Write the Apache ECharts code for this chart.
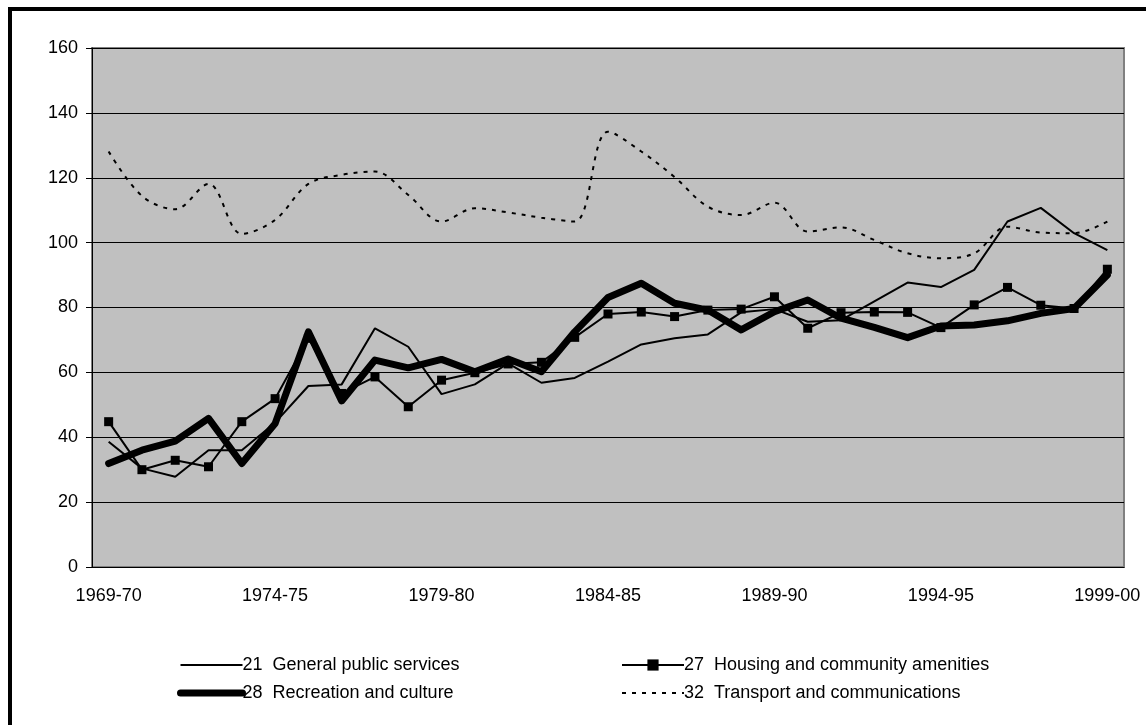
<!DOCTYPE html>
<html>
<head>
<meta charset="utf-8">
<script src="https://cdn.jsdelivr.net/npm/echarts@6/dist/echarts.min.js"></script>
<style>
  html, body { margin: 0; padding: 0; background: #fff; }
  #chart { width: 1146px; height: 725px; }
</style>
</head>
<body>
<div id="chart"></div>
<script>
// Financial years shown on the category axis
const years = [
  '1969-70', '1970-71', '1971-72', '1972-73', '1973-74', '1974-75', '1975-76',
  '1976-77', '1977-78', '1978-79', '1979-80', '1980-81', '1981-82', '1982-83',
  '1983-84', '1984-85', '1985-86', '1986-87', '1987-88', '1988-89', '1989-90',
  '1990-91', '1991-92', '1992-93', '1993-94', '1994-95', '1995-96', '1996-97',
  '1997-98', '1998-99', '1999-00'
];

// 21 General public services
const generalPublicServices = [
  38.6, 30.4, 27.8, 36.0, 36.0, 44.5, 55.8, 56.3, 73.6, 67.9, 53.3,
  56.3, 62.8, 56.8, 58.3, 63.3, 68.6, 70.5, 71.7, 78.5, 79.5, 75.6,
  76.1, 81.9, 87.7, 86.3, 91.6, 106.5, 110.7, 102.9, 97.7
];

// 27 Housing and community amenities
const housingAmenities = [
  44.8, 30.0, 32.9, 30.9, 44.8, 51.9, 70.5, 53.5, 58.6, 49.4, 57.6,
  59.9, 62.6, 63.1, 70.8, 78.0, 78.6, 77.2, 79.2, 79.5, 83.3, 73.6,
  78.4, 78.6, 78.5, 73.8, 80.8, 86.2, 80.7, 79.7, 91.8
];

// 28 Recreation and culture
const recreationCulture = [
  31.9, 36.0, 38.8, 45.8, 31.9, 44.2, 72.5, 51.2, 63.8, 61.4, 64.0,
  60.2, 64.1, 60.2, 72.5, 83.1, 87.5, 81.3, 79.2, 73.1, 78.7, 82.3,
  76.7, 73.9, 70.7, 74.3, 74.6, 75.9, 78.2, 79.7, 90.0
];

// 32 Transport and communications
const transportComms = [
  128.1, 114.4, 110.3, 118.1, 102.7, 107.0, 118.1, 120.9, 121.9, 114.7, 106.5,
  110.6, 109.3, 107.7, 106.5, 134.2, 128.1, 120.2, 111.1, 108.5, 112.3, 103.4,
  104.7, 100.8, 96.7, 95.2, 96.7, 104.9, 103.1, 102.9, 106.5
];

const yTicks = { min: 0, max: 160, step: 20 };

const FONT = 'Liberation Sans, Arial, sans-serif';

const chart = echarts.init(document.getElementById('chart'), null, { renderer: 'canvas' });

// plain line icons (no marker) for the series drawn without symbols
const noMarker = { itemStyle: { opacity: 0 } };

const legendCommon = {
  orient: 'vertical',
  itemWidth: 62,
  itemHeight: 14,
  itemGap: 10,
  textStyle: { fontFamily: FONT, fontSize: 18, color: '#000', padding: [0, 0, 0, -5] },
  lineStyle: { width: 'inherit', type: 'inherit' },
  selectedMode: false
};

chart.setOption({
  animation: false,
  backgroundColor: '#ffffff',
  textStyle: { fontFamily: FONT },
  graphic: [{
    type: 'rect',
    shape: { x: 10, y: 9, width: 1160, height: 740 },
    style: { fill: 'none', stroke: '#000', lineWidth: 4 },
    silent: true,
    z: 100
  }],
  grid: {
    left: 92, top: 48, right: 22, bottom: 158,
    show: true,
    backgroundColor: '#c0c0c0',
    borderColor: '#808080',
    borderWidth: 2
  },
  legend: [
    Object.assign({}, legendCommon, {
      left: 172, top: 651,
      data: [
        Object.assign({ name: '21  General public services' }, noMarker),
        Object.assign({ name: '28  Recreation and culture' }, noMarker)
      ]
    }),
    Object.assign({}, legendCommon, {
      left: 616, top: 651,
      data: [
        { name: '27  Housing and community amenities' },
        Object.assign({ name: '32  Transport and communications' }, noMarker)
      ]
    })
  ],
  xAxis: {
    type: 'category',
    data: years,
    boundaryGap: true,
    axisLine: { lineStyle: { color: '#000', width: 1 } },
    axisTick: { interval: 0, length: 6, lineStyle: { color: '#000' } },
    axisLabel: { interval: 4, margin: 20, fontSize: 18, color: '#000', fontFamily: FONT },
    splitLine: { show: false }
  },
  yAxis: {
    type: 'value',
    min: yTicks.min, max: yTicks.max, interval: yTicks.step,
    axisLine: { show: true, lineStyle: { color: '#000', width: 1 } },
    axisTick: { show: true, length: 6, lineStyle: { color: '#000' } },
    axisLabel: { margin: 14, fontSize: 18, color: '#000', fontFamily: FONT },
    splitLine: { show: true, lineStyle: { color: '#000', width: 1 } }
  },
  series: [
    {
      name: '21  General public services',
      type: 'line',
      data: generalPublicServices,
      symbol: 'none',
      lineStyle: { color: '#000', width: 2 },
      itemStyle: { color: '#000' },
      z: 3
    },
    {
      name: '27  Housing and community amenities',
      type: 'line',
      data: housingAmenities,
      symbol: 'rect',
      symbolSize: 9,
      lineStyle: { color: '#000', width: 2 },
      itemStyle: { color: '#000' },
      z: 4
    },
    {
      name: '28  Recreation and culture',
      type: 'line',
      data: recreationCulture,
      symbol: 'none',
      lineStyle: { color: '#000', width: 7, join: 'round', cap: 'round' },
      itemStyle: { color: '#000' },
      z: 2
    },
    {
      name: '32  Transport and communications',
      type: 'line',
      data: transportComms,
      symbol: 'none',
      smooth: 0.35,
      lineStyle: { color: '#000', width: 2, type: [4, 6] },
      itemStyle: { color: '#000' },
      z: 1
    }
  ]
});
</script>
</body>
</html>
